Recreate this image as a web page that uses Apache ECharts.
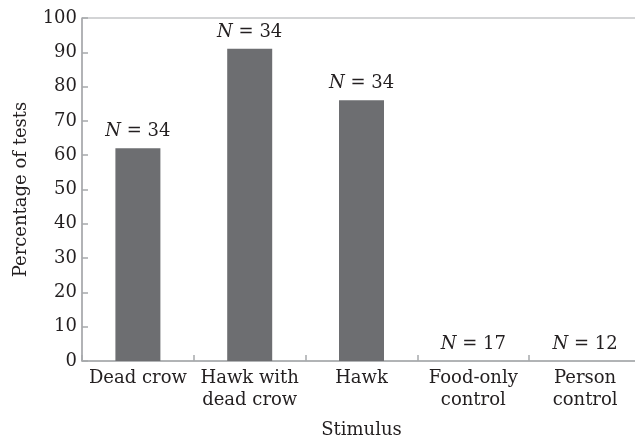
<!DOCTYPE html>
<html>
<head>
<meta charset="utf-8">
<script src="https://cdn.jsdelivr.net/npm/echarts@6/dist/echarts.min.js"></script>
<style>
  html, body { margin: 0; padding: 0; background: #fff; }
  #chart { width: 635px; height: 437px; }
</style>
</head>
<body>
<div id="chart"></div>
<script>
// 数据
const categories = ['Dead crow', 'Hawk with\ndead crow', 'Hawk', 'Food-only\ncontrol', 'Person\ncontrol']
const percentValues = [62, 91, 76, 0, 0]
const sampleSizes = [34, 34, 34, 17, 12]
const yTicks = { min: 0, max: 100, interval: 10 }

const font = 'DejaVu Serif'
const fontSize = 18
const textColor = '#231f20'
const lineColor = '#a7a9ac'

const chart = echarts.init(document.getElementById('chart'))
const option = {
  animation: false,
  textStyle: { fontFamily: font, color: textColor },
  grid: {
    left: 82,
    top: 18,
    width: 559, // 右边超出画布一点，和原图一样被裁掉
    height: 343,
    outerBoundsMode: 'none',
    containLabel: false,
    show: true, // 只为了画上边框
    borderColor: lineColor,
    borderWidth: 1,
    backgroundColor: 'transparent'
  },
  xAxis: {
    type: 'category',
    data: categories,
    name: 'Stimulus',
    nameLocation: 'middle',
    nameGap: 60,
    nameTextStyle: { fontFamily: font, fontSize: fontSize, color: textColor },
    axisLine: { lineStyle: { color: lineColor, width: 1.5 } },
    axisTick: { show: true, inside: true, length: 6, lineStyle: { color: lineColor, width: 1.5 } },
    axisLabel: {
      margin: 6,
      fontFamily: font,
      fontSize: fontSize,
      lineHeight: 22,
      color: textColor,
      interval: 0
    }
  },
  yAxis: {
    type: 'value',
    min: yTicks.min,
    max: yTicks.max,
    interval: yTicks.interval,
    name: 'Percentage of tests',
    nameLocation: 'middle',
    nameRotate: 90,
    nameGap: 52,
    nameTextStyle: { fontFamily: font, fontSize: fontSize, color: textColor },
    splitLine: { show: false },
    axisLine: { show: true, lineStyle: { color: lineColor, width: 1.5 } },
    axisTick: { show: true, inside: true, length: 6, lineStyle: { color: lineColor, width: 1.5 } },
    axisLabel: { margin: 5, fontFamily: font, fontSize: fontSize, color: textColor }
  },
  series: [
    {
      type: 'bar',
      data: percentValues,
      barWidth: 45,
      itemStyle: { color: '#6d6e71' },
      label: {
        show: true,
        position: 'top',
        distance: 8,
        fontFamily: font,
        fontSize: fontSize,
        color: textColor,
        formatter: p => '{i|N} = ' + sampleSizes[p.dataIndex],
        rich: {
          i: { fontStyle: 'italic', fontFamily: font, fontSize: fontSize, color: textColor }
        }
      }
    }
  ]
}
chart.setOption(option)
</script>
</body>
</html>
